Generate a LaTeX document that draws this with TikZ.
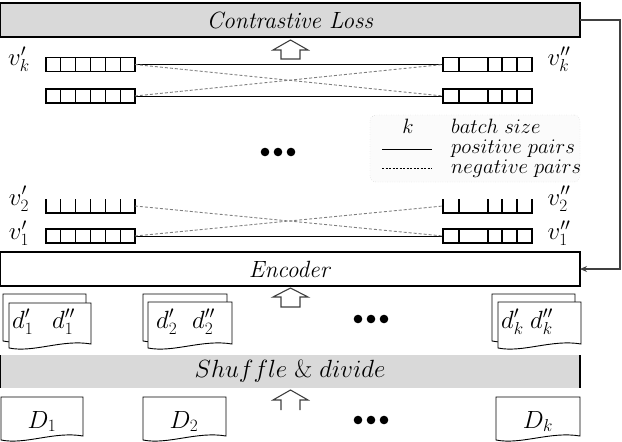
\documentclass[tikz,border=0pt]{standalone}
\usetikzlibrary{arrows.meta}
\definecolor{boxgray}{HTML}{D9D9D9}
\definecolor{dashgray}{HTML}{7F7F7F}
\definecolor{arrgray}{HTML}{404040}
\definecolor{leggray}{HTML}{BFBFBF}
\definecolor{legfill}{HTML}{FBFBFB}
\newcommand\boxfont{\fontsize{23.5}{26}\selectfont}
\newcommand\labfont{\fontsize{23}{26}\selectfont}
\newcommand\vfont{\fontsize{24}{26}\selectfont}
\newcommand\dsfont{\fontsize{24}{26}\selectfont}
\newcommand\legfont{\fontsize{20}{22}\selectfont}
\newcommand\leftcells[1]{\foreach \i in {1,...,5}{\draw[cellline] ([xshift=\i*14.83pt]#1.north west) -- ([xshift=\i*14.83pt]#1.south west);}}
\newcommand\rightcells[1]{\foreach \o in {16,45,59,74}{\draw[cellline] ([xshift=\o pt]#1.north west) -- ([xshift=\o pt]#1.south west);}}
\newcommand\docsheet[4]{\draw[sheet] (#1,#2) -- (#3,#2) -- (#3,#4-4) .. controls ({#1+0.65*(#3-#1)},#4-9) and ({#1+0.3*(#3-#1)},#4+5) .. (#1,#4) -- cycle;}
\begin{document}
\begin{tikzpicture}[x=1pt,y=-1pt,
  wide/.style={minimum width=580pt, minimum height=34pt, inner sep=0pt, outer sep=0pt, font=\boxfont},
  barbox/.style={draw, line width=1.1pt, minimum height=14pt, minimum width=89pt, inner sep=0pt, outer sep=0pt},
  cellline/.style={line width=1.1pt},
  posline/.style={line width=1pt},
  negline/.style={dashgray, line width=0.9pt, dash pattern=on 3pt off 2pt},
  vlab/.style={font=\vfont, anchor=base, inner sep=0pt},
  dslab/.style={font=\dsfont, anchor=base, inner sep=0pt},
  dlab/.style={font=\labfont, anchor=base west, inner sep=0pt},
  leglab/.style={font=\legfont, anchor=base west, inner sep=0pt},
  hollow/.style={draw=arrgray, line width=1.1pt, fill=white, line join=miter},
  sheet/.style={draw, line width=0.9pt, fill=white},
  fb/.style={draw=arrgray, line width=1.1pt, -{Stealth[length=7pt,width=6pt]}},
]
\useasboundingbox (0,0) rectangle (622,442);

% main boxes
\node[wide, draw, fill=boxgray, line width=1.3pt] (CL) at (290,20) {\textit{Contrastive Loss}};
\node[wide, draw, fill=white, line width=1.3pt] (Enc) at (290,269) {\textit{Encoder}};
\node[wide, fill=boxgray, minimum height=33pt] (SD) at (290,371.5) {$Shuffle\ \&\ divide$};
\draw[line width=1.3pt] (SD.north west) -- (SD.south west);
\draw[line width=1.3pt] (SD.north east) -- (SD.south east);

% feedback
\draw[fb] (CL.east) -- ++(40,0) |- (Enc.east);

% hollow arrows
\draw[hollow] (290.5,40) -- (308,50) -- (300,50) -- (300,59) -- (281,59) -- (281,50) -- (273,50) -- cycle;
\draw[hollow] (290.5,288) -- (308,297) -- (300,297) -- (300,307) -- (281,307) -- (281,297) -- (273,297) -- cycle;
\draw[hollow] (300,410) -- (300,400) -- (308,400) -- (290.5,390) -- (273,400) -- (281,400) -- (281,410);

% vector bars
\node[barbox] (Lk) at (90.5,64.5) {};
\node[barbox] (Lj) at (90.5,96) {};
\node[barbox, draw=none] (L2) at (90.5,206) {};
\node[barbox] (L1) at (90.5,236) {};
\node[barbox] (Rk) at (487.5,64.5) {};
\node[barbox] (Rj) at (487.5,96) {};
\node[barbox, draw=none] (R2) at (487.5,206) {};
\node[barbox] (R1) at (487.5,236) {};
\draw[cellline] (L2.north west) -- (L2.south west) -- (L2.south east) -- (L2.north east);
\draw[cellline] (R2.north west) -- (R2.south west) -- (R2.south east) -- (R2.north east);
\leftcells{Lk}\leftcells{Lj}\leftcells{L2}\leftcells{L1}
\rightcells{Rk}\rightcells{Rj}\rightcells{R2}\rightcells{R1}

% pairs
\draw[posline] (Lk.east) -- (Rk.west);
\draw[posline] (Lj.east) -- (Rj.west);
\draw[negline] (Lk.east) -- (Rj.west);
\draw[negline] (Lj.east) -- (Rk.west);
\draw[posline] (L1.east) -- (R1.west);
\draw[negline] (L2.east) -- (R1.west);
\draw[negline] (L1.east) -- (R2.west);

% vector labels
\node[vlab] (vka) at (19,65.5) {$v'_k$};
\node[vlab] (vkb) at (559,65.5) {$v''_k$};
\node[vlab] (v2a) at (19,205) {$v'_2$};
\node[vlab] (v2b) at (559,205) {$v''_2$};
\node[vlab] (v1a) at (19,239.5) {$v'_1$};
\node[vlab] (v1b) at (559,239.5) {$v''_1$};

% legend
\node[draw=leggray, dotted, rounded corners=6pt, fill=legfill, minimum width=210pt, minimum height=67pt, inner sep=0pt] (Leg) at (475,148.5) {};
\node[font=\legfont, anchor=base, inner sep=0pt] (lk) at (408,133) {$k$};
\node[leglab] (lb) at (451,133) {$batch\ size$};
\coordinate (p1) at (382,149);
\coordinate (p2) at (432,149);
\draw[line width=1pt] (p1) -- (p2);
\node[leglab] (lp) at (451,153) {$positive\ pairs$};
\coordinate (n1) at (382,168);
\coordinate (n2) at (432,168);
\draw[line width=0.7pt, dash pattern=on 2pt off 1.5pt] (n1) -- (n2);
\node[leglab] (ln) at (451,173) {$negative\ pairs$};

% dots
\foreach \cx/\cy in {278/152, 371/319, 371/420}{
  \foreach \dx in {-13,0,13}{\fill (\cx+\dx,\cy) circle (4.3pt);}
}

% documents (pairs)
\docsheet{3}{294}{86}{341}
\docsheet{9}{303}{91}{348}
\node[dlab] (d1a) at (12,328) {$d'_1$};
\node[dlab] (d1b) at (52,328) {$d''_1$};
\docsheet{143}{294}{227}{341}
\docsheet{148}{302}{232}{348}
\node[dlab] (d2a) at (156,328) {$d'_2$};
\node[dlab] (d2b) at (192,328) {$d''_2$};
\docsheet{492}{294}{575}{341}
\docsheet{498}{302}{581}{348}
\node[dlab] (dka) at (501,328) {$d'_k$};
\node[dlab] (dkb) at (530,328) {$d''_k$};

% datasets
\docsheet{1}{397}{83}{440}
\node[dslab] (D1) at (42,428) {$D_1$};
\docsheet{143}{397}{226}{440}
\node[dslab] (D2) at (184,428) {$D_2$};
\docsheet{496}{397}{580}{440}
\node[dslab] (Dk) at (538,428) {$D_k$};
\end{tikzpicture}
\end{document}
